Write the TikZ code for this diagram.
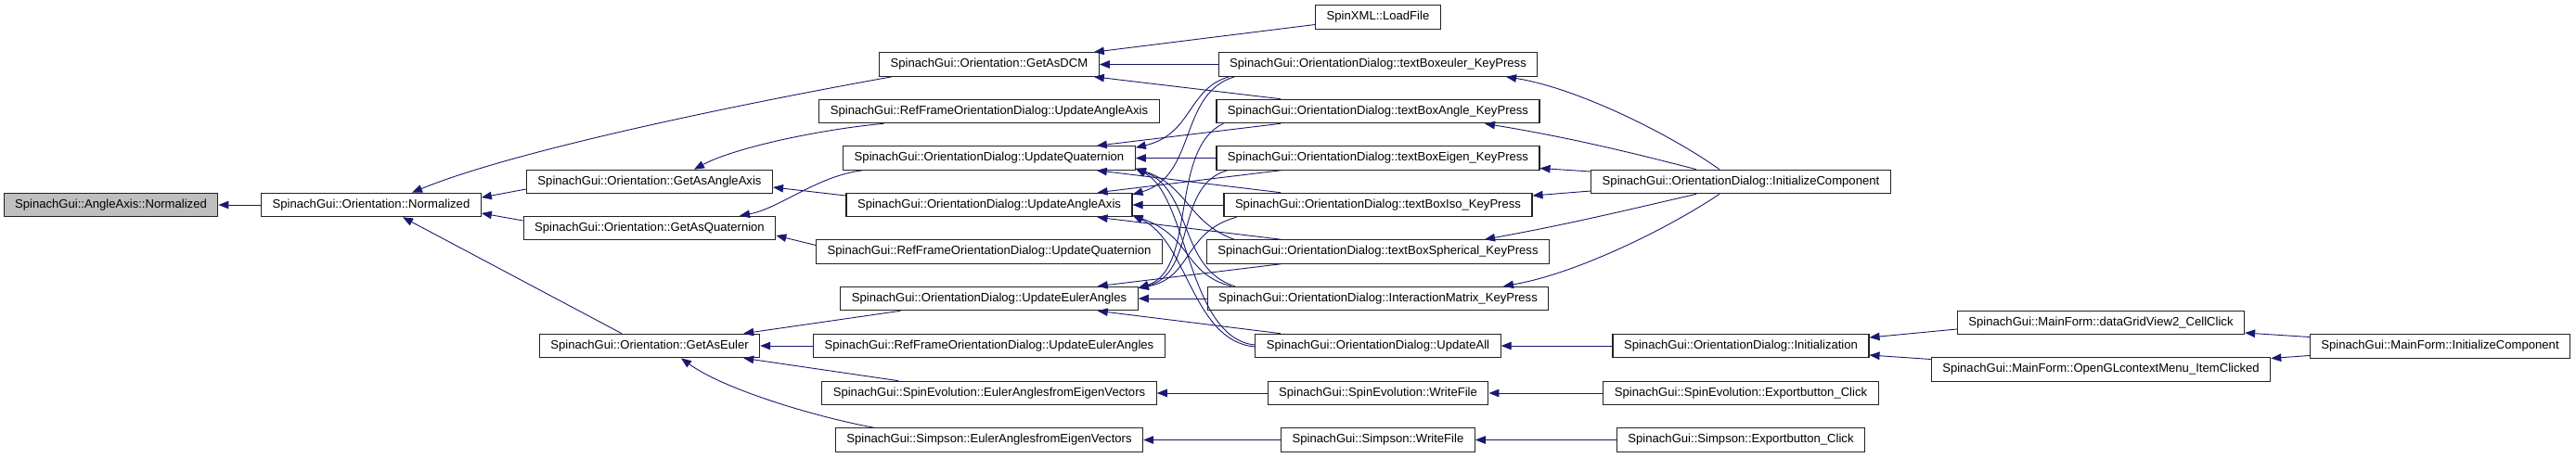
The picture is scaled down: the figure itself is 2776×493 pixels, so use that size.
\documentclass[tikz,border=0pt]{standalone}
\usepackage{fontspec}
\setmainfont{Liberation Sans}
\usetikzlibrary{arrows.meta}
\definecolor{EdgeBlue}{HTML}{191970}
\definecolor{BoxLine}{HTML}{222222}
\definecolor{RootFill}{HTML}{BFBFBF}
\tikzset{
  fnode/.style={draw=BoxLine,fill=white,line width=1.1pt,
    minimum height=25.5pt,inner xsep=12pt,inner ysep=0pt,
    font=\fontsize{13.1}{15}\selectfont,text height=9.6pt,text depth=2.7pt},
  rootnode/.style={fnode,fill=RootFill},
  callee/.style={draw=EdgeBlue,line width=0.9pt,-{Triangle[length=11pt,width=8.5pt]}},
}
\begin{document}
\begin{tikzpicture}[x=1pt,y=-1pt]
  \useasboundingbox[fill=white] (0,0) rectangle (2776,493);
  \node[rootnode] (aanorm) at (119.5,221) {SpinachGui::AngleAxis::Normalized};
  \node[fnode] (onorm) at (400,221) {SpinachGui::Orientation::Normalized};
  \node[fnode] (gaxis) at (700,196) {SpinachGui::Orientation::GetAsAngleAxis};
  \node[fnode] (gquat) at (700,246) {SpinachGui::Orientation::GetAsQuaternion};
  \node[fnode] (geuler) at (700,373) {SpinachGui::Orientation::GetAsEuler};
  \node[fnode] (gdcm) at (1066,69.5) {SpinachGui::Orientation::GetAsDCM};
  \node[fnode] (rfaxis) at (1066,120) {SpinachGui::RefFrameOrientationDialog::UpdateAngleAxis};
  \node[fnode] (uquat) at (1066,170.5) {SpinachGui::OrientationDialog::UpdateQuaternion};
  \node[fnode] (uaxis) at (1066,221) {SpinachGui::OrientationDialog::UpdateAngleAxis};
  \node[fnode] (rfquat) at (1066,271.5) {SpinachGui::RefFrameOrientationDialog::UpdateQuaternion};
  \node[fnode] (ueuler) at (1066,322) {SpinachGui::OrientationDialog::UpdateEulerAngles};
  \node[fnode] (rfeuler) at (1066,373) {SpinachGui::RefFrameOrientationDialog::UpdateEulerAngles};
  \node[fnode] (seigen) at (1066,424) {SpinachGui::SpinEvolution::EulerAnglesfromEigenVectors};
  \node[fnode] (smeigen) at (1066,474.5) {SpinachGui::Simpson::EulerAnglesfromEigenVectors};
  \node[fnode] (loadfile) at (1485,18.5) {SpinXML::LoadFile};
  \node[fnode] (tbeuler) at (1485,69.5) {SpinachGui::OrientationDialog::textBoxeuler\_KeyPress};
  \node[fnode] (tbangle) at (1485,120) {SpinachGui::OrientationDialog::textBoxAngle\_KeyPress};
  \node[fnode] (tbeigen) at (1485,170.5) {SpinachGui::OrientationDialog::textBoxEigen\_KeyPress};
  \node[fnode] (tbiso) at (1485,221) {SpinachGui::OrientationDialog::textBoxIso\_KeyPress};
  \node[fnode] (tbsph) at (1485,271.5) {SpinachGui::OrientationDialog::textBoxSpherical\_KeyPress};
  \node[fnode] (imatrix) at (1485,322) {SpinachGui::OrientationDialog::InteractionMatrix\_KeyPress};
  \node[fnode] (uall) at (1485,373) {SpinachGui::OrientationDialog::UpdateAll};
  \node[fnode] (sewrite) at (1485,424) {SpinachGui::SpinEvolution::WriteFile};
  \node[fnode] (smwrite) at (1485,474.5) {SpinachGui::Simpson::WriteFile};
  \node[fnode] (odinit) at (1876,196) {SpinachGui::OrientationDialog::InitializeComponent};
  \node[fnode] (odinitn) at (1876,373) {SpinachGui::OrientationDialog::Initialization};
  \node[fnode] (seexp) at (1876,424) {SpinachGui::SpinEvolution::Exportbutton\_Click};
  \node[fnode] (smexp) at (1876,474.5) {SpinachGui::Simpson::Exportbutton\_Click};
  \node[fnode] (dgv) at (2264,348) {SpinachGui::MainForm::dataGridView2\_CellClick};
  \node[fnode] (oglmenu) at (2264,398.5) {SpinachGui::MainForm::OpenGLcontextMenu\_ItemClicked};
  \node[fnode] (mfinit) at (2629.5,373.5) {SpinachGui::MainForm::InitializeComponent};
  \draw[callee] (onorm.west) -- (aanorm.east);
  \draw[callee] ([xshift=14pt]gdcm.south west) .. controls (820,108) and (560,160) .. ([xshift=44pt]onorm.north);
  \draw[callee] ([yshift=-8pt]gaxis.west) -- ([yshift=8pt]onorm.east);
  \draw[callee] ([yshift=8pt]gquat.west) -- ([yshift=-9pt]onorm.east);
  \draw[callee] ([xshift=-30pt]geuler.north) -- ([xshift=34pt]onorm.south);
  \draw[callee] ([xshift=70pt]rfaxis.south west) .. controls (880,140) and (790,160) .. ([xshift=48pt]gaxis.north);
  \draw[callee] ([yshift=10pt]uaxis.west) -- ([yshift=-6pt]gaxis.east);
  \draw[callee] ([xshift=21pt]uquat.south west) .. controls (880,190) and (840,225) .. ([xshift=97pt]gquat.north);
  \draw[callee] ([yshift=7pt]rfquat.west) -- ([yshift=-8pt]gquat.east);
  \draw[callee] ([xshift=65pt]ueuler.south west) -- ([xshift=-18pt]geuler.north east);
  \draw[callee] (rfeuler.west) -- (geuler.east);
  \draw[callee] ([xshift=83pt]seigen.north west) -- ([xshift=-18pt]geuler.south east);
  \draw[callee] ([xshift=42pt]smeigen.north west) .. controls (880,450) and (780,420) .. ([xshift=34pt]geuler.south);
  \draw[callee] ([yshift=-8pt]loadfile.west) -- ([xshift=-6pt]gdcm.north east);
  \draw[callee] (tbeuler.west) -- (gdcm.east);
  \draw[callee] ([xshift=-105pt]tbangle.north) -- ([xshift=-6pt]gdcm.south east);
  \draw[callee] ([xshift=-105pt]tbangle.south) -- ([xshift=-42pt]uquat.north east);
  \draw[callee] (tbeigen.west) -- (uquat.east);
  \draw[callee] ([xshift=-105pt]tbeigen.south) -- ([xshift=-38pt]uaxis.north east);
  \draw[callee] ([xshift=-105pt]tbiso.north) -- ([xshift=-42pt]uquat.south east);
  \draw[callee] (tbiso.west) -- (uaxis.east);
  \draw[callee] ([xshift=-105pt]tbsph.north) -- ([xshift=-38pt]uaxis.south east);
  \draw[callee] ([xshift=-105pt]tbsph.south) -- ([xshift=-44pt]ueuler.north east);
  \draw[callee] (imatrix.west) -- (ueuler.east);
  \draw[callee] ([xshift=-105pt]uall.north) -- ([xshift=-44pt]ueuler.south east);
  \draw[callee] ([xshift=12pt]tbeuler.south west) .. controls (1280,95) and (1285,145) .. ([yshift=-2pt]uquat.north east);
  \draw[callee] ([xshift=18pt]tbeuler.south west) .. controls (1270,100) and (1290,190) .. ([yshift=-2pt]uaxis.north east);
  \draw[callee] ([xshift=8pt]tbangle.south west) .. controls (1260,160) and (1290,290) .. ([yshift=-2pt]ueuler.north east);
  \draw[callee] ([xshift=12pt]tbeigen.south west) .. controls (1265,200) and (1290,295) .. ([yshift=-2pt]ueuler.north east);
  \draw[callee] ([xshift=14pt]tbiso.south west) .. controls (1275,250) and (1285,300) .. ([yshift=-2pt]ueuler.north east);
  \draw[callee] ([xshift=30pt]tbsph.north west) .. controls (1280,240) and (1280,200) .. ([yshift=2pt]uquat.south east);
  \draw[callee] ([xshift=30pt]imatrix.north west) .. controls (1270,290) and (1285,205) .. ([yshift=2pt]uquat.south east);
  \draw[callee] ([xshift=26pt]imatrix.north west) .. controls (1275,295) and (1285,255) .. ([yshift=2pt]uaxis.south east);
  \draw[callee] ([yshift=1pt]uall.west) .. controls (1280,365) and (1280,210) .. ([yshift=2pt]uquat.south east);
  \draw[callee] ([yshift=-1pt]uall.west) .. controls (1285,368) and (1280,260) .. ([yshift=2pt]uaxis.south east);
  \draw[callee] ([xshift=-23pt]odinit.north) .. controls (1800,145) and (1700,95) .. ([xshift=138pt]tbeuler.south);
  \draw[callee] ([xshift=-48pt]odinit.north) .. controls (1760,165) and (1690,148) .. ([xshift=115pt]tbangle.south);
  \draw[callee] ([yshift=11pt]odinit.west) -- ([yshift=-11pt]tbeigen.east);
  \draw[callee] ([yshift=-10pt]odinit.west) -- ([yshift=10pt]tbiso.east);
  \draw[callee] ([xshift=-48pt]odinit.south) .. controls (1760,225) and (1690,242) .. ([xshift=115pt]tbsph.north);
  \draw[callee] ([xshift=-23pt]odinit.south) .. controls (1800,245) and (1700,295) .. ([xshift=135pt]imatrix.north);
  \draw[callee] (odinitn.west) -- (uall.east);
  \draw[callee] ([yshift=-7pt]dgv.west) -- ([yshift=9pt]odinitn.east);
  \draw[callee] ([yshift=11pt]oglmenu.west) -- ([yshift=-10pt]odinitn.east);
  \draw[callee] ([yshift=10pt]mfinit.west) -- ([yshift=-11pt]dgv.east);
  \draw[callee] ([yshift=-10pt]mfinit.west) -- ([yshift=12pt]oglmenu.east);
  \draw[callee] (sewrite.west) -- (seigen.east);
  \draw[callee] (smwrite.west) -- (smeigen.east);
  \draw[callee] (seexp.west) -- (sewrite.east);
  \draw[callee] (smexp.west) -- (smwrite.east);
\end{tikzpicture}
\end{document}
